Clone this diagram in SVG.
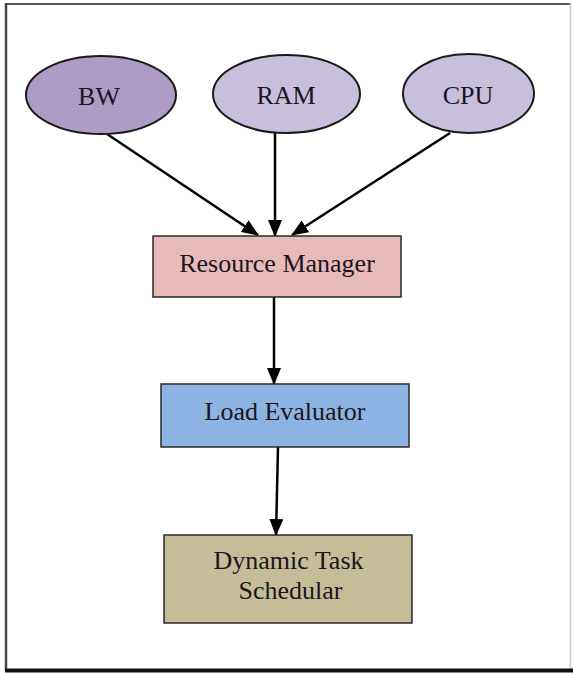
<svg xmlns="http://www.w3.org/2000/svg" width="573" height="673" viewBox="0 0 573 673">
<style>
.lbl{font-family:"Liberation Serif","Times New Roman",serif;font-size:26px;fill:#1a1620;text-anchor:middle}
.node{stroke:#2a2a2a;stroke-width:1.5}
.ell{stroke:#1a1a1a;stroke-width:2}
.edge{stroke:#000;stroke-width:2.5;fill:none;marker-end:url(#ah)}
</style>
<defs>
<marker id="ah" markerWidth="17" markerHeight="14" refX="16" refY="7" orient="auto" markerUnits="userSpaceOnUse">
<path d="M0,0 L17,7 L0,14 Z" fill="#000"/>
</marker>
</defs>
<rect x="0" y="0" width="573" height="673" fill="#fff"/>
<g id="frame">
<line x1="5" y1="4" x2="571" y2="4" stroke="#555" stroke-width="2"/>
<line x1="6" y1="3" x2="6" y2="671" stroke="#444" stroke-width="2.5"/>
<line x1="570.5" y1="3" x2="570.5" y2="671" stroke="#ccc" stroke-width="1.5"/>
<line x1="5" y1="670.5" x2="573" y2="670.5" stroke="#111" stroke-width="4"/>
</g>
<g id="connectors">
<line class="edge" x1="107" y1="134" x2="258" y2="235"/>
<line class="edge" x1="275" y1="133" x2="275" y2="236"/>
<line class="edge" x1="450" y1="133" x2="292" y2="235"/>
<line class="edge" x1="274" y1="297" x2="274" y2="384"/>
<line class="edge" x1="278" y1="447" x2="276" y2="535"/>
</g>
<g id="bw"><ellipse class="ell" cx="101" cy="95" rx="75" ry="39" fill="#ad9cc6"/><text class="lbl" x="99" y="105">BW</text></g>
<g id="ram"><ellipse class="ell" cx="286.5" cy="94" rx="73.5" ry="39" fill="#c8bfdc"/><text class="lbl" x="286" y="104">RAM</text></g>
<g id="cpu"><ellipse class="ell" cx="468.5" cy="93.5" rx="65.5" ry="39.5" fill="#c8bfdc"/><text class="lbl" x="468" y="104">CPU</text></g>
<g id="resource-manager"><rect class="node" x="153" y="236" width="248" height="61" fill="#e8b9b9"/><text class="lbl" x="277" y="272">Resource Manager</text></g>
<g id="load-evaluator"><rect class="node" x="161" y="384" width="248" height="63" fill="#8db3e2"/><text class="lbl" x="285" y="420">Load Evaluator</text></g>
<g id="dynamic-task-schedular"><rect class="node" x="164" y="535" width="248" height="88" fill="#c4bd97"/><text class="lbl" x="288.5" y="569">Dynamic Task</text><text class="lbl" x="290.5" y="599">Schedular</text></g>
</svg>
